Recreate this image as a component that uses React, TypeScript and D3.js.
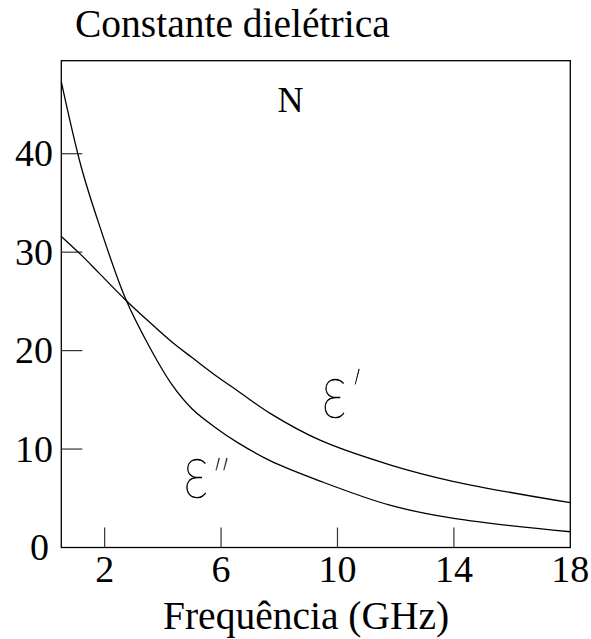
import React from "react";
import * as d3 from "d3";

// Frequency (GHz)
const freq = [0.51, 1.2, 1.8, 2.7, 3.5, 4.3, 5.0, 5.8, 6.6, 7.7, 9.4, 11.8, 14, 18];
// ε' (real part)
const epsReal = [31.6, 29.7, 27.9, 25.2, 23.0, 20.9, 19.3, 17.5, 15.85, 13.6, 10.9, 8.4, 6.7, 4.55];
// ε'' (imaginary part)
const epsImag = [47.3, 38.6, 32.9, 25.4, 20.6, 16.6, 14.1, 12.2, 10.6, 8.8, 6.75, 4.3, 2.95, 1.6];

const xTicks = [2, 6, 10, 14, 18];
const yTicks = [0, 10, 20, 30, 40];

const W = 591;
const H = 639;
const left = 61.3;
const right = 570.3;
const top = 60.7;
const bottom = 547.5;

export default function App() {
  const x = d3.scaleLinear().domain([0.51, 18]).range([left, right]);
  const y = d3.scaleLinear().domain([0, 49.45]).range([bottom, top]);

  const mk = (vals: number[]) =>
    d3
      .line<number>()
      .x((_, i) => x(freq[i]))
      .y((d) => y(d))
      .curve(d3.curveCatmullRom.alpha(0.5))(vals) as string;

  const pReal = mk(epsReal);
  const pImag = mk(epsImag);

  const serif = "Liberation Serif, Tinos, DejaVu Serif, serif";
  const epsFont = "Lato, Roboto, sans-serif";
  const tickStyle = { fontFamily: serif, fontSize: 38 } as React.CSSProperties;
  const titleStyle = { fontFamily: serif, fontSize: 39.5 } as React.CSSProperties;
  const eStyle = { fontFamily: epsFont, fontWeight: 200 } as React.CSSProperties;

  const epsLabel = (fx: number, vy: number, key: string) => (
    <text
      key={key}
      transform={`translate(${x(fx)},${y(vy)}) scale(0.86,1.15)`}
      style={{ ...eStyle, fontSize: 66 }}
      fill="#000"
      stroke="#000"
      strokeWidth={0.6}
    >
      ε
    </text>
  );

  return (
    <svg
      width={W}
      height={H}
      style={{ position: "absolute", left: 0, top: 0, background: "#fff" }}
    >
      <rect x={0} y={0} width={W} height={H} fill="#fff" />
      {/* frame */}
      <rect
        x={left}
        y={top}
        width={right - left}
        height={bottom - top}
        fill="none"
        stroke="#000"
        strokeWidth={1.3}
      />
      {/* y ticks */}
      {yTicks.map((t) => (
        <g key={"y" + t}>
          {t > 0 && (
            <line x1={left} x2={left + 21} y1={y(t)} y2={y(t)} stroke="#333" strokeWidth={1.2} />
          )}
          <text x={t === 0 ? 49 : 53} y={y(t) + 12.5} textAnchor="end" style={tickStyle} fill="#000">
            {t}
          </text>
        </g>
      ))}
      {/* x ticks */}
      {xTicks.map((t) => (
        <g key={"x" + t}>
          {t < 18 && (
            <line x1={x(t)} x2={x(t)} y1={bottom} y2={bottom - 20} stroke="#333" strokeWidth={1.2} />
          )}
          <text x={x(t)} y={581.7} textAnchor="middle" style={tickStyle} fill="#000">
            {t}
          </text>
        </g>
      ))}
      {/* curves */}
      <path d={pReal} fill="none" stroke="#000" strokeWidth={1.3} />
      <path d={pImag} fill="none" stroke="#000" strokeWidth={1.3} />

      {/* curve labels */}
      {epsLabel(9.45, 13.15, "e1")}
      <text x={349} y={411} style={{ ...eStyle, fontSize: 52 }} fill="#000" stroke="#000" strokeWidth={0.5}>
        ′
      </text>
      {epsLabel(4.7, 5.03, "e2")}
      <text x={211} y={492} style={{ ...eStyle, fontSize: 42 }} fill="#000" stroke="#000" strokeWidth={0.5}>
        ″
      </text>

      {/* N */}
      <text x={290.5} y={111.7} textAnchor="middle" style={{ fontFamily: serif, fontSize: 36 }} fill="#000">
        N
      </text>

      {/* titles */}
      <text x={75} y={37.3} style={titleStyle} fill="#000">
        Constante dielétrica
      </text>
      <text x={163} y={629} style={titleStyle} fill="#000">
        Frequência (GHz)
      </text>
    </svg>
  );
}
